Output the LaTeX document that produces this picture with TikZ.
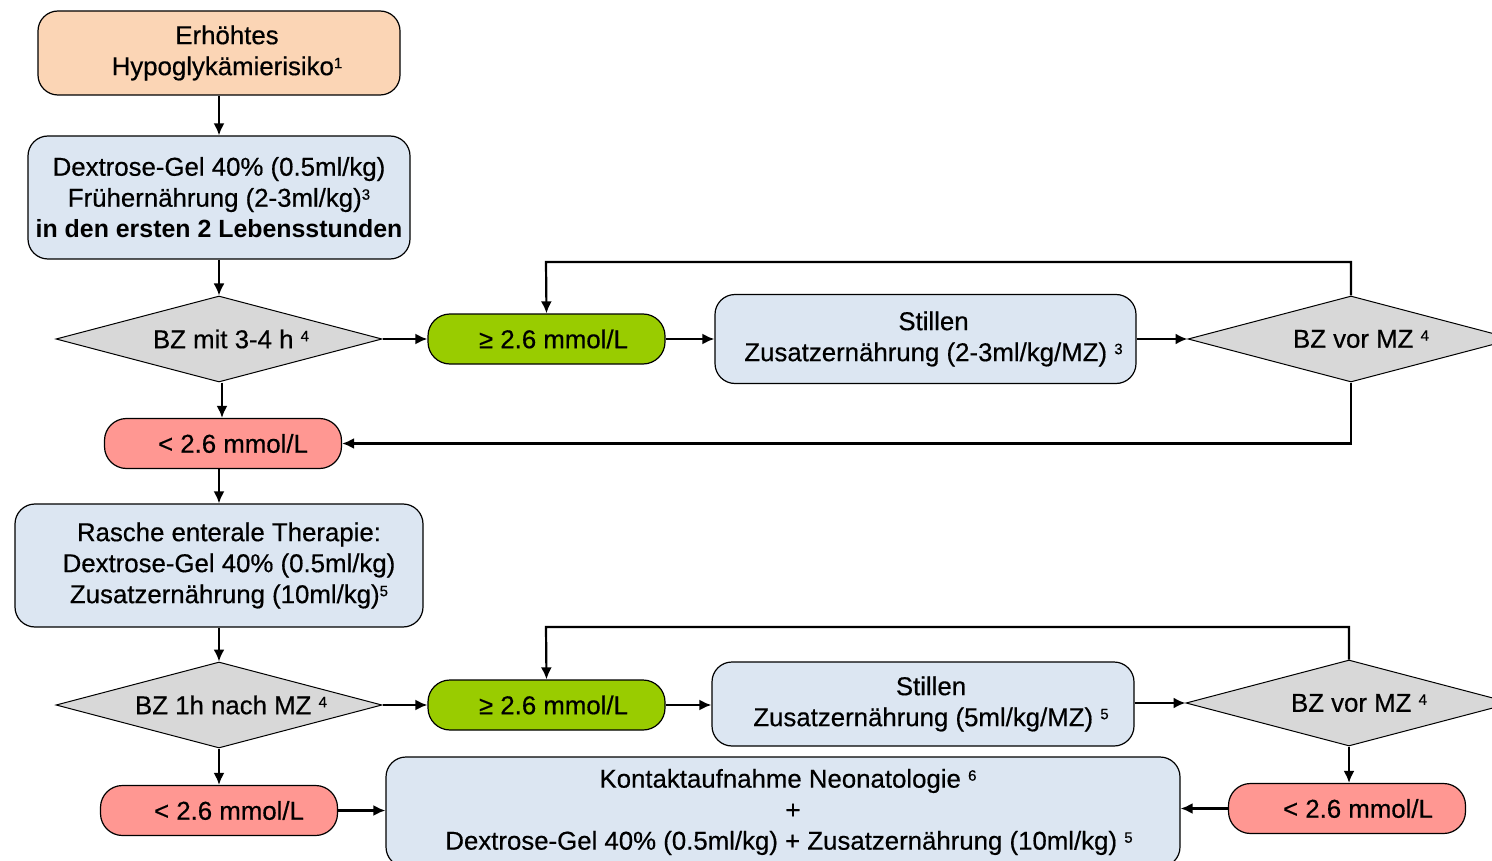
\documentclass[tikz,border=0pt]{standalone}
\usepackage{fontspec}
\setmainfont{Liberation Sans}[UprightFeatures={FakeBold=0.5}]
\usetikzlibrary{shapes.geometric,arrows.meta}
\definecolor{peach}{HTML}{FBD5B5}
\definecolor{lblue}{HTML}{DCE6F2}
\definecolor{lgreen}{HTML}{99CC00}
\definecolor{lred}{HTML}{FF9792}
\definecolor{dgray}{HTML}{D8D8D8}
\newcommand{\supx}[1]{\raisebox{7pt}{\fontsize{15}{15}\selectfont #1}}
\newcommand{\sh}[1]{\hspace*{#1pt}}
\begin{document}
\begin{tikzpicture}[x=1pt,y=-1pt,
  every node/.style={font=\fontsize{25.8}{31}\selectfont, align=center, inner sep=0pt},
  box/.style={draw=black, line width=1.2pt, rounded corners=20pt, fill=lblue},
  pill/.style={draw=black, line width=1.2pt, rounded corners=22pt, minimum width=237pt, minimum height=50pt},
  dia/.style={draw=black, line width=1pt, shape=diamond, aspect=3.79, fill=dgray, minimum width=326pt, minimum height=86pt},
  conn/.style={line width=2.2pt, -{Latex[length=12pt,width=11pt]}}
]
\useasboundingbox (0,0) rectangle (1492,861);
\begin{scope}
\clip (0,0) rectangle (1492,861);
% nodes
\node[box, fill=peach, minimum width=362pt, minimum height=84pt] (risk) at (219,53)
  {\sh{16}Erhöhtes\\\sh{16}Hypoglykämierisiko\supx{1}};
\node[box, minimum width=382pt, minimum height=123pt] (gel) at (219,197.5)
  {Dextrose-Gel 40\% (0.5ml/kg)\\Frühernährung (2-3ml/kg)\supx{3}\\{\fontsize{24.9}{31}\selectfont\bfseries in den ersten 2 Lebensstunden}};
\node[dia] (d1) at (219,339) {\sh{24}BZ mit 3-4 h \supx{4}};
\node[pill, fill=lgreen] (g1) at (546.5,339) {\sh{14}≥ 2.6 mmol/L};
\node[box, minimum width=421pt, minimum height=89pt] (s1) at (925.5,339)
  {\sh{16}Stillen\\\sh{16}Zusatzernährung (2-3ml/kg/MZ) \supx{3}};
\node[dia] (d3) at (1351,339) {\sh{20}BZ vor MZ \supx{4}};
\node[pill, fill=lred] (r1) at (223,443.5) {\sh{20}< 2.6 mmol/L};
\node[box, minimum width=408pt, minimum height=123pt] (ther) at (219,565.5)
  {\sh{20}Rasche enterale Therapie:\\\sh{20}Dextrose-Gel 40\% (0.5ml/kg)\\\sh{20}Zusatzernährung (10ml/kg)\supx{5}};
\node[dia] (d2) at (219,705) {\sh{24}BZ 1h nach MZ \supx{4}};
\node[pill, fill=lgreen] (g2) at (546.5,705) {\sh{14}≥ 2.6 mmol/L};
\node[box, minimum width=422pt, minimum height=84pt] (s2) at (923,704)
  {\sh{16}Stillen\\\sh{16}Zusatzernährung (5ml/kg/MZ) \supx{5}};
\node[dia] (d4) at (1349,703) {\sh{20}BZ vor MZ \supx{4}};
\node[pill, fill=lred] (r2) at (219,810.5) {\sh{20}< 2.6 mmol/L};
\node[pill, fill=lred] (r3) at (1347,808.5) {\sh{22}< 2.6 mmol/L};
\node[box, minimum width=794pt, minimum height=110pt] (kon) at (783,812)
  {\sh{10}Kontaktaufnahme Neonatologie \supx{6}\\\sh{20}+\\\sh{12}Dextrose-Gel 40\% (0.5ml/kg) + Zusatzernährung (10ml/kg) \supx{5}};
% connectors
\draw[conn] (risk.south) -- (gel.north);
\draw[conn] (gel.south) -- (d1.north);
\draw[conn] (d1.east) -- (g1.west);
\draw[conn] (g1.east) -- (s1.west);
\draw[conn] (s1.east) -- (d3.west);
\draw[conn] (d3.north) |- (546,262) -- (g1.north);
\draw[conn] (d3.south) |- (r1.east);
\draw[conn] ([xshift=3pt]d1.south) -- ([xshift=-1pt]r1.north);
\draw[conn] (r1.south -| ther.north) -- (ther.north);
\draw[conn] (ther.south) -- (d2.north);
\draw[conn] (d2.east) -- (g2.west);
\draw[conn] (g2.east) -- (s2.west |- g2.east);
\draw[conn] (s2.east |- d4.west) -- (d4.west);
\draw[conn] (d4.north) |- (546,627) -- (g2.north);
\draw[conn] (d4.south) -- (d4.south |- r3.north);
\draw[conn] (d2.south) -- (r2.north);
\draw[conn] (r2.east) -- (kon.west |- r2.east);
\draw[conn] (r3.west) -- (kon.east |- r3.west);
\end{scope}
\end{tikzpicture}
\end{document}
